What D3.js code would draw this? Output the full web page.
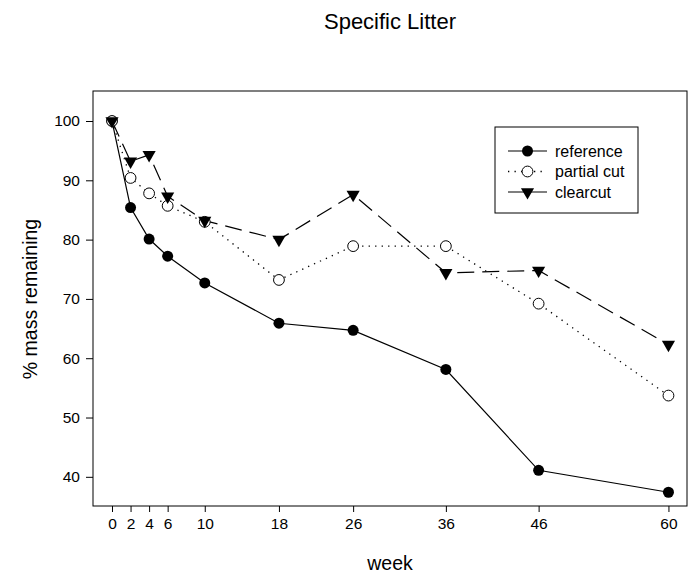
<!DOCTYPE html>
<html>
<head>
<meta charset="utf-8">
<script src="https://cdn.jsdelivr.net/npm/d3@7"></script>
<style>
  body { margin: 0; background: #fff; }
  svg { display: block; font-family: "Liberation Sans", Arial, sans-serif; }
</style>
</head>
<body>
<svg id="chart" width="698" height="581"></svg>
<script>
const weeks = [0, 2, 4, 6, 10, 18, 26, 36, 46, 60];
const reference = [100, 85.4, 80.1, 77.2, 72.7, 65.9, 64.7, 58.1, 41.1, 37.4];
const partialCut = [100, 90.4, 87.8, 85.7, 83.0, 73.2, 78.9, 78.9, 69.2, 53.7];
const clearcut = [100, 93.2, 94.3, 87.3, 83.2, 80.0, 87.6, 74.4, 74.8, 62.3];
const xTicks = [0, 2, 4, 6, 10, 18, 26, 36, 46, 60];
const yTicks = [40, 50, 60, 70, 80, 90, 100];
const seriesNames = ["reference", "partial cut", "clearcut"];

const svg = d3.select("#chart");
const plotLeft = 93, plotRight = 687, plotTop = 91, plotBottom = 506;

const x = d3.scaleLinear().domain([-2.05, 62]).range([plotLeft, plotRight]);
const y = d3.scaleLinear().domain([35.08, 105.06]).range([plotBottom, plotTop]);

const series = [
  { name: seriesNames[0], values: reference, dash: null, marker: "filledCircle", width: 1.2 },
  { name: seriesNames[1], values: partialCut, dash: "1.3,5.2", marker: "openCircle", width: 1.3 },
  { name: seriesNames[2], values: clearcut, dash: "17,8", marker: "triangle", width: 1.2 }
];

// Frame
svg.append("rect")
  .attr("x", plotLeft).attr("y", plotTop)
  .attr("width", plotRight - plotLeft).attr("height", plotBottom - plotTop)
  .attr("fill", "none").attr("stroke", "#000").attr("stroke-width", 1);

// Axes
const xAxis = d3.axisBottom(x).tickValues(xTicks).tickSize(6).tickPadding(6).tickSizeOuter(0);
const gx = svg.append("g").attr("transform", `translate(0,${plotBottom})`).call(xAxis);
gx.select(".domain").remove();
gx.selectAll("text").attr("font-size", 15.5).attr("font-family", "Liberation Sans, Arial, sans-serif").attr("fill", "#000");
gx.selectAll("line").attr("stroke", "#000");

const yAxis = d3.axisLeft(y).tickValues(yTicks).tickSize(7).tickPadding(6).tickSizeOuter(0);
const gy = svg.append("g").attr("transform", `translate(${plotLeft},0)`).call(yAxis);
gy.select(".domain").remove();
gy.selectAll("text").attr("font-size", 15.5).attr("font-family", "Liberation Sans, Arial, sans-serif").attr("fill", "#000");
gy.selectAll("line").attr("stroke", "#000");

// Lines
const line = d3.line().x((d, i) => x(weeks[i])).y(d => y(d));
series.forEach(s => {
  svg.append("path")
    .datum(s.values)
    .attr("d", line)
    .attr("fill", "none")
    .attr("stroke", "#000")
    .attr("stroke-width", s.width)
    .attr("stroke-dasharray", s.dash);
});

const triPath = d3.symbol().type(d3.symbolTriangle).size(75)();

function drawMarker(g, type, cx, cy) {
  if (type === "filledCircle") {
    g.append("circle").attr("cx", cx).attr("cy", cy).attr("r", 5.5).attr("fill", "#000");
  } else if (type === "openCircle") {
    g.append("circle").attr("cx", cx).attr("cy", cy).attr("r", 5.4).attr("fill", "#fff").attr("stroke", "#000").attr("stroke-width", 1);
  } else {
    g.append("path").attr("d", triPath)
      .attr("transform", `translate(${cx},${cy}) rotate(180)`)
      .attr("fill", "#000");
  }
}

series.forEach(s => {
  const g = svg.append("g");
  s.values.forEach((v, i) => drawMarker(g, s.marker, x(weeks[i]), y(v)));
});

// Legend
const lg = svg.append("g");
lg.append("rect").attr("x", 495).attr("y", 127).attr("width", 143).attr("height", 86)
  .attr("fill", "#fff").attr("stroke", "#000").attr("stroke-width", 1);
series.forEach((s, i) => {
  const ly = 151 + i * 20.5;
  lg.append("line").attr("x1", 508).attr("x2", 547).attr("y1", ly).attr("y2", ly)
    .attr("stroke", "#000").attr("stroke-width", s.width)
    .attr("stroke-dasharray", i === 1 ? "1.3,5.2" : null);
  drawMarker(lg, s.marker, 527.5, ly);
  lg.append("text").attr("x", 555).attr("y", ly + 5.5).attr("font-size", 16).attr("fill", "#000").text(s.name);
});

// Titles
svg.append("text").attr("x", 390).attr("y", 29).attr("text-anchor", "middle")
  .attr("font-size", 22).attr("fill", "#000").text("Specific Litter");
svg.append("text").attr("x", 390).attr("y", 570).attr("text-anchor", "middle")
  .attr("font-size", 19.5).attr("fill", "#000").text("week");
svg.append("text").attr("transform", "translate(37,299) rotate(-90)").attr("text-anchor", "middle")
  .attr("font-size", 19.5).attr("fill", "#000").text("% mass remaining");
</script>
</body>
</html>
